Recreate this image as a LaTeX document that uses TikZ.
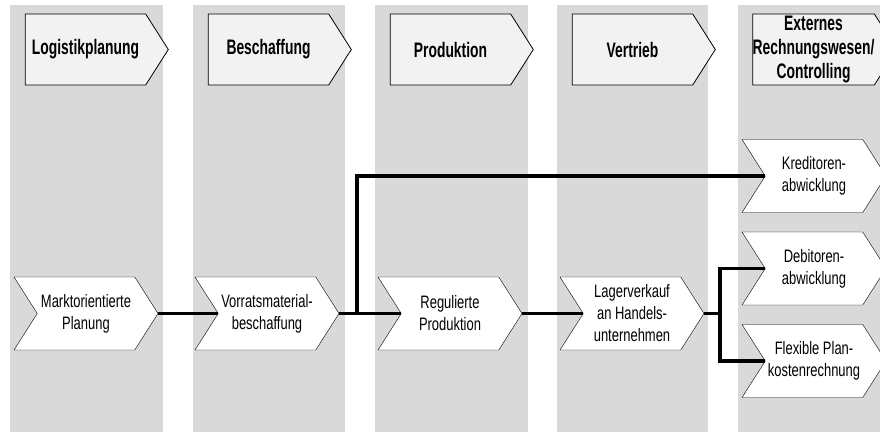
\documentclass[tikz,border=0pt]{standalone}
\usepackage{fontspec}
\setmainfont{Liberation Sans}
\newfontfamily\headfont[FakeStretch=0.66]{Liberation Sans}
\newfontfamily\boxfont[FakeStretch=0.72]{Liberation Sans}
\usetikzlibrary{shapes.symbols}
\tikzset{
  stripe/.style={fill=gray!30, draw=none},
  header/.style={signal, signal to=east, signal pointer angle=115, draw, thick,
    fill=gray!10, minimum width=143pt, minimum height=71pt, inner sep=0pt,
    align=center, font=\headfont\bfseries\fontsize{21}{24}\selectfont},
  process/.style={signal, signal to=east, signal from=west, signal pointer angle=115,
    draw, fill=white, minimum width=144pt, minimum height=73pt, inner sep=0pt,
    align=center, font=\boxfont\fontsize{18}{22}\selectfont},
  flow/.style={line width=3.2pt}
}
\begin{document}
\begin{tikzpicture}[x=1pt,y=-1pt]
        \useasboundingbox (0,0) rectangle (880,432);
        \fill[white] (0,0) rectangle (880,432);
        \fill[stripe] (10,5) rectangle (163,432);
        \fill[stripe] (193,5) rectangle (345,432);
        \fill[stripe] (375,5) rectangle (528,432);
        \fill[stripe] (557,5) rectangle (708,432);
        \fill[stripe] (738,5) rectangle (880,432);
        \node[header] (log) at (85.5,49.5) {Logistikplanung};
        \node[header] (bes) at (268.5,49.5) {Beschaffung};
        \node[header] (pro) at (450.5,49.5) {Produktion};
        \node[header] (ver) at (632.5,49.5) {Vertrieb};
        \node[header] (ext) at (813.5,49.5) {Externes\\Rechnungswesen/\\Controlling};
        \node[process] (mp) at (86,313.5) {Marktorientierte\\Planung};
        \node[process] (vb) at (267,313.5) {Vorratsmaterial-\\beschaffung};
        \node[process] (rp) at (450,313.5) {Regulierte\\Produktion};
        \node[process] (lv) at (632,313.5) {Lagerverkauf\\an Handels-\\unternehmen};
        \node[process] (kr) at (814,176) {Kreditoren-\\abwicklung};
        \node[process] (db) at (814,268.5) {Debitoren-\\abwicklung};
        \node[process] (fp) at (814,361) {Flexible Plan-\\kostenrechnung};
        \coordinate (j1) at (357,313.5);
        \coordinate (j2) at (720,313.5);
        \draw[flow] (mp.east) -- (vb.west);
        \draw[flow] (vb.east) -- (rp.west);
        \draw[flow] (j1) |- (kr.west);
        \draw[flow] (rp.east) -- (lv.west);
        \draw[flow] (lv.east) -- (j2);
        \draw[flow] (j2) |- (db.west);
        \draw[flow] (j2) |- (fp.west);
\end{tikzpicture}
\end{document}
